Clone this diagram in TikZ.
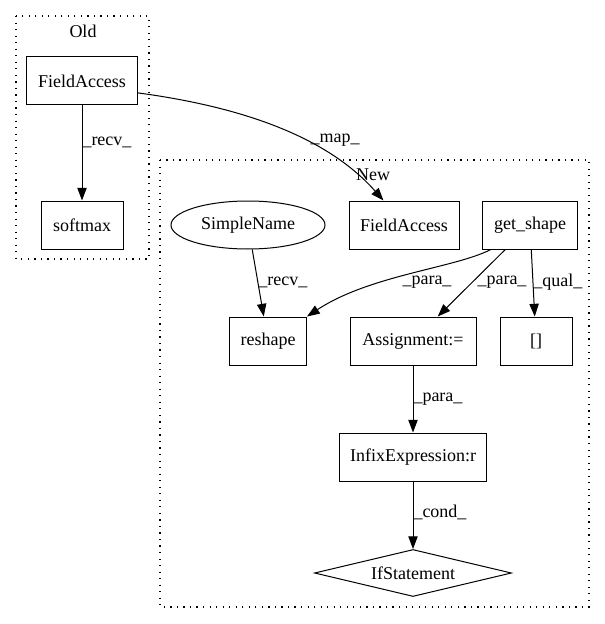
\documentclass[tikz,border=0pt]{standalone}
\usepackage{fontspec}
\setmainfont{Liberation Serif}
\usetikzlibrary{positioning,arrows.meta,shapes.geometric}

\begin{document}
\begin{tikzpicture}[x=0.75pt, y=-0.75pt,
        box/.style={rectangle, draw, line width=0.75pt, inner sep=0pt, minimum height=36pt, font=\fontsize{13.5}{16}\selectfont},
        lbl/.style={inner sep=0pt, font=\fontsize{13.5}{16}\selectfont},
        edge/.style={line width=0.75pt, -{Triangle[length=9.5pt, width=7pt]}},
        cluster/.style={draw, line width=0.9pt, dash pattern=on 0.9pt off 4pt}]
        \useasboundingbox (0,0) rectangle (605,624);

        % clusters
        \draw[cluster] (16,16) rectangle (149,259);
        \node[lbl] (oldlbl) at (83,31) {Old};
        \draw[cluster] (160,160) rectangle (589,607);
        \node[lbl] (newlbl) at (373,175) {New};

        % old side
        \node[box, minimum width=83.25pt] (oldfa) at (82,81) {FieldAccess};
        \node[box, minimum width=61.5pt] (softmax) at (82,225) {softmax};

        % new side
        \node[box, minimum width=82.5pt] (newfa) at (404,225) {FieldAccess};
        \node[box, minimum width=71.25pt] (getshape) at (530,225) {get\_shape};
        \node[ellipse, draw, line width=0.75pt, inner sep=0pt, minimum width=115.5pt, minimum height=36pt, font=\fontsize{13.5}{16}\selectfont] (simplename) at (248,225) {SimpleName};
        \node[box, minimum width=57.75pt] (reshape) at (268,341) {reshape};
        \node[box, minimum width=94.5pt] (assign) at (413,341) {Assignment:=};
        \node[box, minimum width=54pt] (brackets) at (536,341) {[]};
        \node[box, minimum width=110.25pt] (infix) at (413,457) {InfixExpression:r};
        \node[diamond, draw, line width=0.75pt, aspect=4.2, inner sep=0pt, minimum width=147.75pt, minimum height=35.25pt, font=\fontsize{13.5}{16}\selectfont] (ifstmt) at (413,573) {IfStatement};

        % edges
        \draw[edge] (oldfa) -- node[lbl, pos=0.39, anchor=west] {\_recv\_} (softmax);
        \draw[edge] (oldfa.-12) .. controls (250,108) and (330,140) .. (newfa.130);
        \node[lbl] (maplbl) at (335,140) {\_map\_};
        \draw[edge] (simplename) -- node[lbl, pos=0.485, anchor=west] {\_recv\_} (reshape);
        \draw[edge] (getshape.212) .. controls (455,268) and (370,275) .. (reshape.north east);
        \node[lbl] (paralbla) at (427,282) {\_para\_};
        \draw[edge] (getshape) -- (assign);
        \node[lbl] (paralblb) at (502,282) {\_para\_};
        \draw[edge] (getshape) -- node[lbl, pos=0.485, anchor=west] {\_qual\_} (brackets);
        \draw[edge] (assign) -- node[lbl, pos=0.51, anchor=west] {\_para\_} (infix);
        \draw[edge] (infix) -- node[lbl, pos=0.46, anchor=west] {\_cond\_} (ifstmt);
\end{tikzpicture}
\end{document}
